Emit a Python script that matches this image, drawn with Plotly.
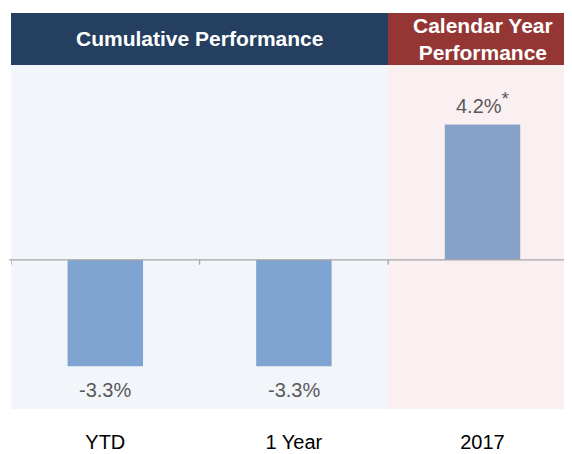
import plotly.graph_objects as go

categories = ["YTD", "1 Year", "2017"]
values = [-3.3, -3.3, 4.2]
value_labels = ["-3.3%", "-3.3%", "4.2%<sup><span style='font-size:19px'>*</span></sup>"]
bar_colors = ["#7FA4D1", "#7FA4D1", "#88A1C8"]
header_left = "<b>Cumulative Performance</b>"
header_right = "<b>Calendar Year<br>Performance</b>"

OFF = 8  # browser body margin
W, H = 572 - OFF, 454 - OFF
L = 11 - OFF
R = 0
T = 65 - OFF
B = 454 - 409
plot_h = H - T - B
plot_w = W - L - R
top_paper = 1 + (65 - 13) / plot_h
split_px = 388 - OFF
split_paper = (split_px - L) / plot_w
cat_w = 188.6

fig = go.Figure()
fig.add_trace(go.Bar(
    x=categories, y=values, marker_color=bar_colors, width=0.4,
    marker_line_width=0, hoverinfo="skip",
))

shapes = [
    dict(type="rect", xref="paper", yref="paper", x0=0, x1=split_paper, y0=0, y1=1,
         fillcolor="#F2F5FA", line_width=0, layer="below"),
    dict(type="rect", xref="paper", yref="paper", x0=split_paper, x1=1.02, y0=0, y1=1,
         fillcolor="#FBF0F1", line_width=0, layer="below"),
    dict(type="rect", xref="paper", yref="paper", x0=0, x1=split_paper, y0=1, y1=top_paper,
         fillcolor="#243F60", line_width=0),
    dict(type="rect", xref="paper", yref="paper", x0=split_paper, x1=1.02, y0=1, y1=top_paper,
         fillcolor="#943634", line_width=0),
    dict(type="line", xref="paper", yref="y", x0=-0.003, x1=1.02, y0=0, y1=0,
         line=dict(color="#A6A6A6", width=1.3)),
]
for xb in [-0.5, 0.5, 1.5]:
    shapes.append(dict(type="line", xref="x", yref="y", x0=xb, x1=xb, y0=0, y1=-0.15,
                       line=dict(color="#A6A6A6", width=1.3)))

annotations = [
    dict(text=header_left, xref="paper", yref="paper", x=split_paper / 2,
         y=(1 + top_paper) / 2, showarrow=False,
         font=dict(family="Liberation Sans, Arial", size=21, color="white"),
         xanchor="center", yanchor="middle"),
    dict(text=header_right, xref="paper", yref="paper", x=(split_paper + 1.0) / 2 + 0.005,
         y=(1 + top_paper) / 2, showarrow=False,
         font=dict(family="Liberation Sans, Arial", size=21, color="white"),
         xanchor="center", yanchor="middle"),
]
for i, (v, t) in enumerate(zip(values, value_labels)):
    annotations.append(dict(
        text=t, x=i, y=v, xref="x", yref="y", showarrow=False,
        xanchor="center", yanchor="bottom" if v >= 0 else "top",
        yshift=6 if v >= 0 else -11,
        font=dict(family="Liberation Sans, Arial", size=20, color="#595959"),
    ))

fig.update_layout(
    width=W, height=H,
    margin=dict(l=L, r=R, t=T, b=B, pad=0, autoexpand=False),
    paper_bgcolor="white", plot_bgcolor="rgba(0,0,0,0)",
    showlegend=False,
    shapes=shapes, annotations=annotations,
    xaxis=dict(type="category", range=[-0.5, -0.5 + plot_w / cat_w],
               showgrid=False, zeroline=False, showline=False, ticks="",
               tickfont=dict(family="Liberation Sans, Arial", size=20, color="black"),
               ticklabelstandoff=19, fixedrange=True, automargin=False),
    yaxis=dict(range=[-4.63, 6.05], showgrid=False, zeroline=False,
               showticklabels=False, showline=False, ticks="", fixedrange=True,
               automargin=False),
)
fig.write_html("out.html")
